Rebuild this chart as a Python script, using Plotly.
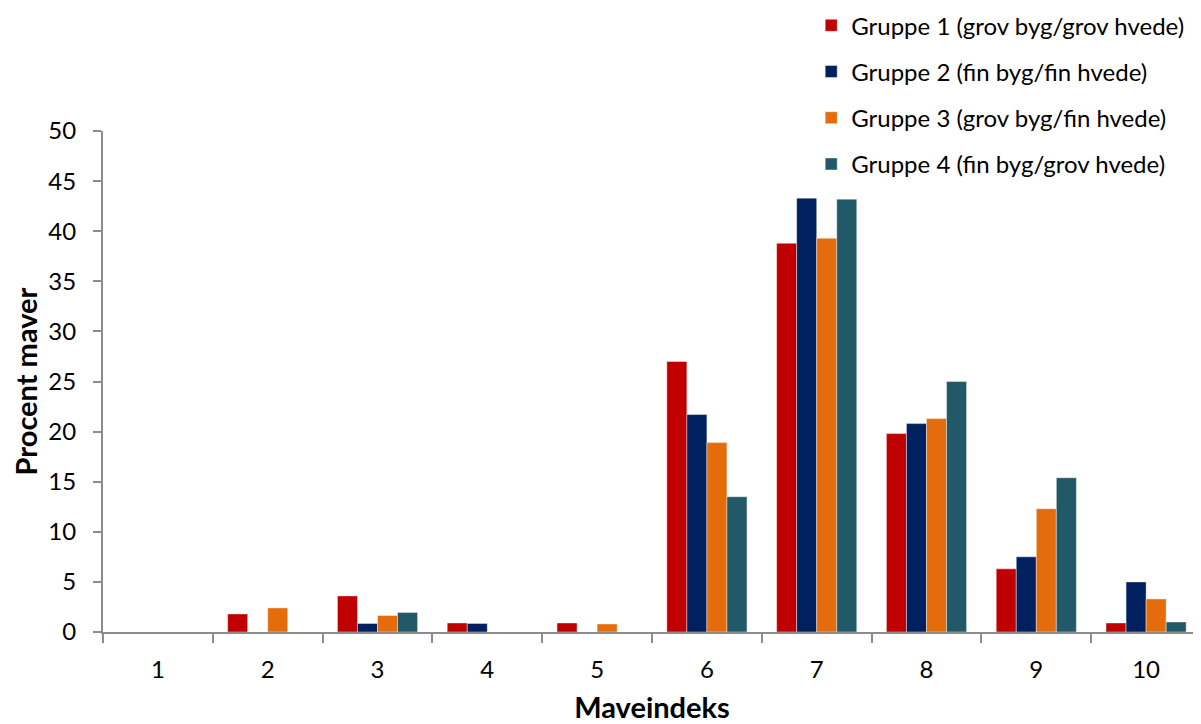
import plotly.graph_objects as go

categories = ["1", "2", "3", "4", "5", "6", "7", "8", "9", "10"]
gruppe1 = [0, 1.8, 3.6, 0.9, 0.9, 27.0, 38.8, 19.8, 6.3, 0.9]
gruppe2 = [0, 0, 0.85, 0.85, 0, 21.7, 43.3, 20.8, 7.5, 5.0]
gruppe3 = [0, 2.4, 1.65, 0, 0.8, 18.9, 39.3, 21.3, 12.3, 3.3]
gruppe4 = [0, 0, 1.95, 0, 0, 13.5, 43.2, 25.0, 15.4, 1.0]

names = [
    "Gruppe 1 (grov byg/grov hvede)",
    "Gruppe 2 (fin byg/fin hvede)",
    "Gruppe 3 (grov byg/fin hvede)",
    "Gruppe 4 (fin byg/grov hvede)",
]
colors = ["#C00000", "#002060", "#E46C0A", "#215968"]
series = [gruppe1, gruppe2, gruppe3, gruppe4]

FONT = "Lato, 'Open Sans', sans-serif"

fig = go.Figure()
for i, (n, c, s) in enumerate(zip(names, colors, series)):
    fig.add_trace(go.Bar(
        x=categories, y=s, name=n, legendgroup=f"g{i}",
        marker=dict(color=c, line=dict(color="rgba(255,255,255,0.7)", width=0.6)),
    ))

fig.update_layout(
    width=1193, height=716,
    margin=dict(l=95, r=0, t=123, b=92, autoexpand=False),
    plot_bgcolor="white", paper_bgcolor="white",
    barmode="group", bargap=0.27, bargroupgap=0,
    font=dict(family=FONT, size=24, color="#000000"),
    legend=dict(
        x=0.645, y=1.255, xanchor="left", yanchor="top",
        font=dict(family=FONT, size=24, color="#000000"),
        tracegroupgap=12, bgcolor="rgba(0,0,0,0)",
        itemwidth=30,
    ),
    showlegend=True,
)
fig.update_xaxes(
    type="category", showline=True, linecolor="#8C8C8C", linewidth=2,
    ticks="outside", tickson="boundaries", ticklen=9, tickcolor="#8C8C8C", tickwidth=2,
    showgrid=False, zeroline=False, ticklabelstandoff=15,
    title=dict(text="<b>Maveindeks</b>", font=dict(family=FONT, size=29), standoff=23),
    tickfont=dict(family=FONT, size=24),
)
fig.update_yaxes(
    range=[0, 50], dtick=5, showline=True, linecolor="#8C8C8C", linewidth=2,
    ticks="outside", ticklen=8, tickcolor="#8C8C8C", tickwidth=2,
    showgrid=False, zeroline=False, ticklabelstandoff=12,
    title=dict(text="<b>Procent maver</b>", font=dict(family=FONT, size=29), standoff=18),
    tickfont=dict(family=FONT, size=24),
)

fig.write_html("out.html")
